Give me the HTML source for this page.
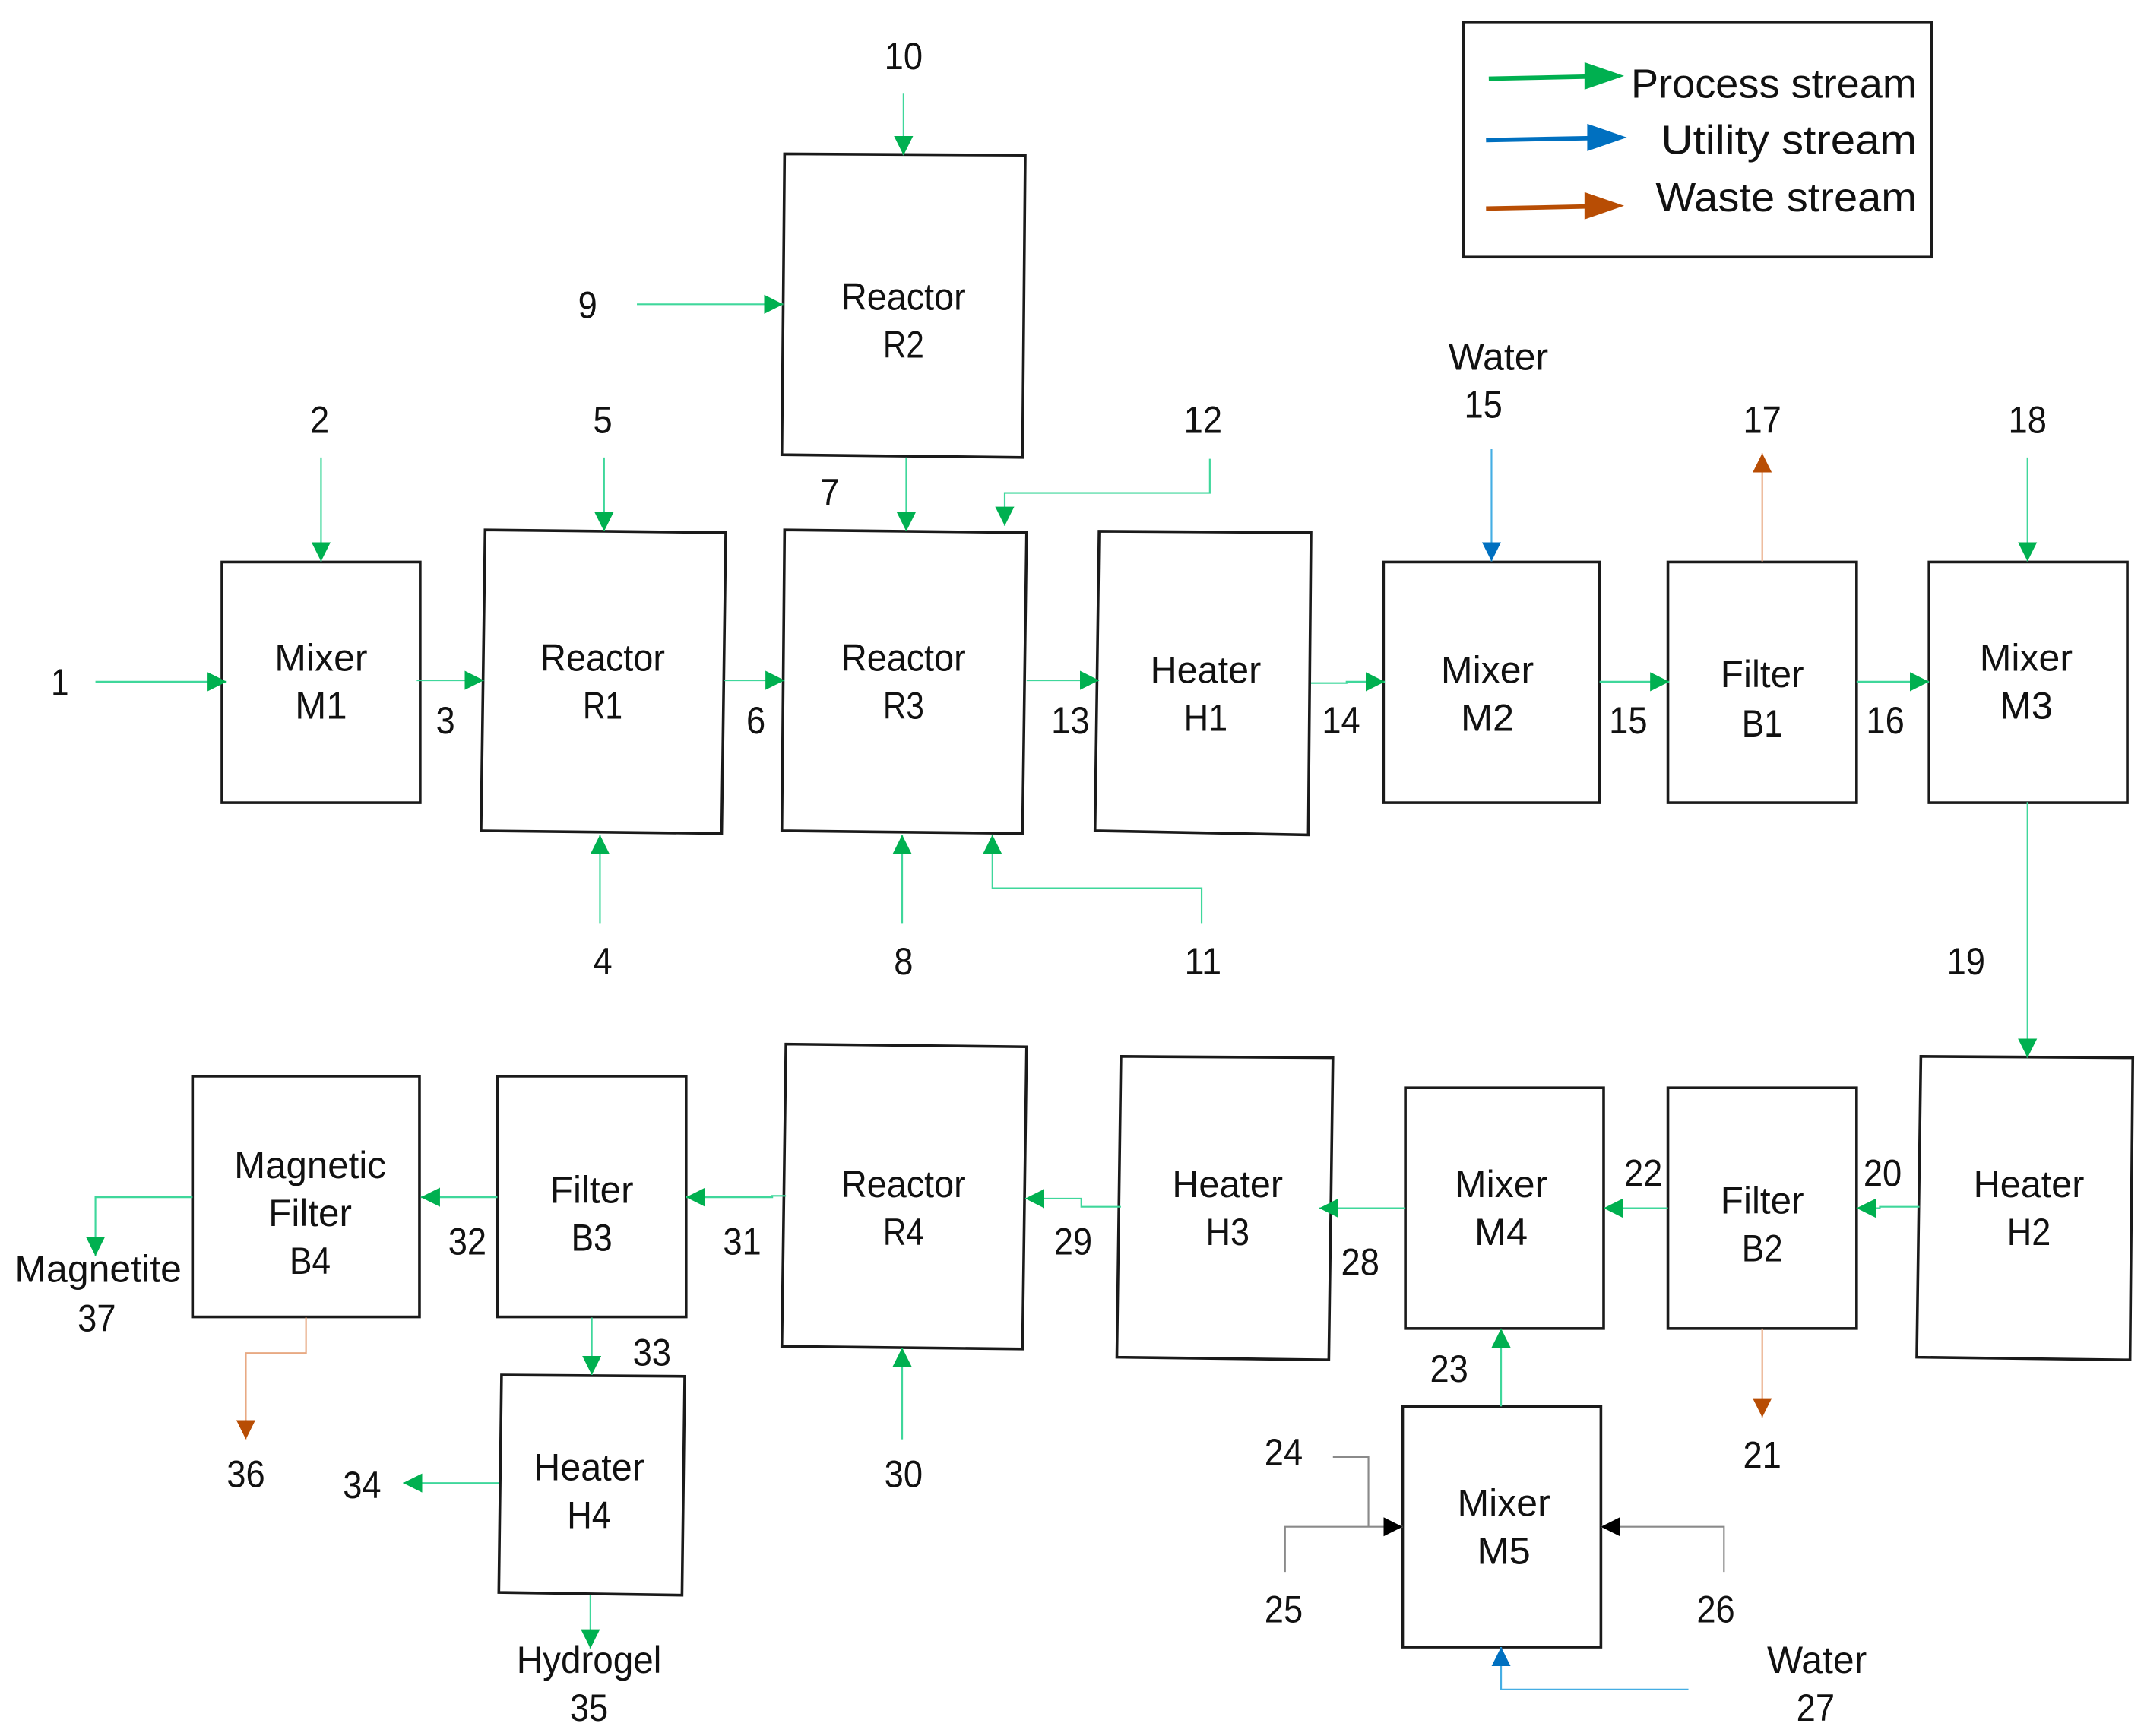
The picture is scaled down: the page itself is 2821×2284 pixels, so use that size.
<!DOCTYPE html>
<html><head><meta charset="utf-8"><style>
html,body{margin:0;padding:0;background:#fff}
svg{display:block}
text{font-family:"Liberation Sans Narrow","Liberation Sans",sans-serif;font-size:28px;fill:#111;text-anchor:middle}
.b{fill:#fff;stroke:#1a1a1a;stroke-width:2}
.g,.u,.w,.k{fill:none;stroke-width:1.2}
.g{stroke:#3fd79b;marker-end:url(#mg)}
.u{stroke:#45aee4;marker-end:url(#mu)}
.w{stroke:#e8a983;marker-end:url(#mw)}
.k{stroke:#8a8a8a;marker-end:url(#mk)}
.n{fill:none;stroke:#8a8a8a;stroke-width:1.2}
</style></head><body>
<svg xmlns="http://www.w3.org/2000/svg" width="2821" height="2284" viewBox="0 0 1568 1269.5">
<defs>
<marker id="mg" markerUnits="userSpaceOnUse" markerWidth="16" markerHeight="16" refX="14" refY="7" orient="auto"><path d="M0 0L14 7L0 14Z" fill="#00b050"/></marker>
<marker id="mu" markerUnits="userSpaceOnUse" markerWidth="16" markerHeight="16" refX="14" refY="7" orient="auto"><path d="M0 0L14 7L0 14Z" fill="#0070c0"/></marker>
<marker id="mw" markerUnits="userSpaceOnUse" markerWidth="16" markerHeight="16" refX="14" refY="7" orient="auto"><path d="M0 0L14 7L0 14Z" fill="#b84d04"/></marker>
<marker id="mk" markerUnits="userSpaceOnUse" markerWidth="16" markerHeight="16" refX="14" refY="7" orient="auto"><path d="M0 0L14 7L0 14Z" fill="#000"/></marker>
</defs>
<rect width="1568" height="1270" fill="#fff"/>
<g transform="translate(-0.2,-0.5)">
<!-- boxes -->
<rect class="b" x="162.5" y="411.5" width="145" height="176"/>
<polygon class="b" points="355,388 531,390 528,610 352,608"/>
<polygon class="b" points="574,113 750,114 748,335 572,333"/>
<polygon class="b" points="574,388 751,390 748,610 572,608"/>
<polygon class="b" points="804,389 959,390 957,611 801,608"/>
<rect class="b" x="1012" y="411.5" width="158" height="176"/>
<rect class="b" x="1220" y="411.5" width="138" height="176"/>
<rect class="b" x="1411" y="411.5" width="145" height="176"/>
<polygon class="b" points="1405,773 1560,774 1558,995 1402,993"/>
<rect class="b" x="1220" y="796" width="138" height="176"/>
<rect class="b" x="1028" y="796" width="145" height="176"/>
<polygon class="b" points="820,773 975,774 972,995 817,993"/>
<polygon class="b" points="575,764 751,766 748,987 572,985"/>
<rect class="b" x="364" y="787.5" width="138" height="176"/>
<rect class="b" x="141" y="787.5" width="166" height="176"/>
<polygon class="b" points="367,1006 501,1007 499,1167 365,1165"/>
<rect class="b" x="1026" y="1029" width="145" height="176"/>
<rect class="b" x="1070.5" y="16.5" width="342.5" height="172"/>

<!-- connectors -->
<path class="g" d="M70 499H166"/>
<path class="g" d="M235 335V411"/>
<path class="g" d="M305 498H354"/>
<path class="g" d="M442 335V389"/>
<path class="g" d="M439 676V611"/>
<path class="g" d="M530 498H574"/>
<path class="g" d="M466 223H573"/>
<path class="g" d="M661 69V114"/>
<path class="g" d="M663 335V389"/>
<path class="g" d="M660 676V611"/>
<path class="g" d="M879 676V650H726V611"/>
<path class="g" d="M885 336V361H735V385"/>
<path class="g" d="M751 498H804"/>
<path class="g" d="M959 500H985V499H1013"/>
<path class="u" d="M1091 329V411"/>
<path class="g" d="M1170 499H1221"/>
<path class="w" d="M1289 411V332"/>
<path class="g" d="M1358 499H1411"/>
<path class="g" d="M1483 335V411"/>
<path class="g" d="M1483 587V774"/>
<path class="g" d="M1404 883H1375V884H1358"/>
<path class="g" d="M1220 884H1173"/>
<path class="g" d="M1028 884H965"/>
<path class="g" d="M820 883H791V877H750"/>
<path class="g" d="M575 875H565V876H502"/>
<path class="g" d="M364 876H308"/>
<path class="g" d="M141 876H70V919"/>
<path class="w" d="M224 964V990H180V1053"/>
<path class="g" d="M433 964V1006"/>
<path class="g" d="M365 1085H295"/>
<path class="g" d="M432 1167V1206"/>
<path class="g" d="M660 1053V986"/>
<path class="g" d="M1098 1029V972"/>
<path class="w" d="M1289 972V1037"/>
<path class="n" d="M975 1066H1001V1117"/>
<path class="k" d="M940 1150V1117H1026"/>
<path class="k" d="M1261 1150V1117H1171"/>
<path class="u" d="M1235 1236H1098V1205"/>

<!-- legend arrows -->
<path d="M1089 58L1162 56.5" stroke="#00b050" stroke-width="3.2" fill="none"/><path d="M1159 46L1188 56L1159 66Z" fill="#00b050"/>
<path d="M1087 103L1164 101.5" stroke="#0070c0" stroke-width="3.2" fill="none"/><path d="M1161 91L1190 101L1161 111Z" fill="#0070c0"/>
<path d="M1087 153L1162 151.5" stroke="#b84d04" stroke-width="3.2" fill="none"/><path d="M1159 141L1188 151L1159 161Z" fill="#b84d04"/>

<!-- legend text -->
<text x="1297.5" y="72" textLength="209" lengthAdjust="spacingAndGlyphs" style="font-size:30px">Process stream</text>
<text x="1308.5" y="113" textLength="187" lengthAdjust="spacingAndGlyphs" style="font-size:30px">Utility stream</text>
<text x="1306.5" y="155" textLength="191" lengthAdjust="spacingAndGlyphs" style="font-size:30px">Waste stream</text>

<!-- box labels -->
<text x="235" y="491" textLength="68" lengthAdjust="spacingAndGlyphs">Mixer</text>
<text x="235" y="526" textLength="38" lengthAdjust="spacingAndGlyphs">M1</text>
<text x="441" y="491" textLength="91" lengthAdjust="spacingAndGlyphs">Reactor</text>
<text x="441" y="526" textLength="29" lengthAdjust="spacingAndGlyphs">R1</text>
<text x="661" y="227" textLength="91" lengthAdjust="spacingAndGlyphs">Reactor</text>
<text x="661" y="262" textLength="30" lengthAdjust="spacingAndGlyphs">R2</text>
<text x="661" y="491" textLength="91" lengthAdjust="spacingAndGlyphs">Reactor</text>
<text x="661" y="526" textLength="30" lengthAdjust="spacingAndGlyphs">R3</text>
<text x="882" y="500" textLength="81" lengthAdjust="spacingAndGlyphs">Heater</text>
<text x="882" y="535" textLength="32" lengthAdjust="spacingAndGlyphs">H1</text>
<text x="1088" y="500" textLength="68" lengthAdjust="spacingAndGlyphs">Mixer</text>
<text x="1088" y="535" textLength="39" lengthAdjust="spacingAndGlyphs">M2</text>
<text x="1289" y="503" textLength="61" lengthAdjust="spacingAndGlyphs">Filter</text>
<text x="1289" y="539" textLength="30" lengthAdjust="spacingAndGlyphs">B1</text>
<text x="1482" y="491" textLength="68" lengthAdjust="spacingAndGlyphs">Mixer</text>
<text x="1482" y="526" textLength="39" lengthAdjust="spacingAndGlyphs">M3</text>
<text x="1484" y="876" textLength="81" lengthAdjust="spacingAndGlyphs">Heater</text>
<text x="1484" y="911" textLength="32" lengthAdjust="spacingAndGlyphs">H2</text>
<text x="1289" y="888" textLength="61" lengthAdjust="spacingAndGlyphs">Filter</text>
<text x="1289" y="923" textLength="30" lengthAdjust="spacingAndGlyphs">B2</text>
<text x="1098" y="876" textLength="68" lengthAdjust="spacingAndGlyphs">Mixer</text>
<text x="1098" y="911" textLength="39" lengthAdjust="spacingAndGlyphs">M4</text>
<text x="898" y="876" textLength="81" lengthAdjust="spacingAndGlyphs">Heater</text>
<text x="898" y="911" textLength="32" lengthAdjust="spacingAndGlyphs">H3</text>
<text x="661" y="876" textLength="91" lengthAdjust="spacingAndGlyphs">Reactor</text>
<text x="661" y="911" textLength="30" lengthAdjust="spacingAndGlyphs">R4</text>
<text x="433" y="880" textLength="61" lengthAdjust="spacingAndGlyphs">Filter</text>
<text x="433" y="915" textLength="30" lengthAdjust="spacingAndGlyphs">B3</text>
<text x="227" y="862" textLength="111" lengthAdjust="spacingAndGlyphs">Magnetic</text>
<text x="227" y="897" textLength="61" lengthAdjust="spacingAndGlyphs">Filter</text>
<text x="227" y="932" textLength="30" lengthAdjust="spacingAndGlyphs">B4</text>
<text x="431" y="1083" textLength="81" lengthAdjust="spacingAndGlyphs">Heater</text>
<text x="431" y="1118" textLength="32" lengthAdjust="spacingAndGlyphs">H4</text>
<text x="1100" y="1109" textLength="68" lengthAdjust="spacingAndGlyphs">Mixer</text>
<text x="1100" y="1144" textLength="39" lengthAdjust="spacingAndGlyphs">M5</text>

<!-- stream labels -->
<text x="44" y="509" textLength="13" lengthAdjust="spacingAndGlyphs">1</text>
<text x="234" y="317" textLength="14" lengthAdjust="spacingAndGlyphs">2</text>
<text x="326" y="537" textLength="14" lengthAdjust="spacingAndGlyphs">3</text>
<text x="441" y="317" textLength="14" lengthAdjust="spacingAndGlyphs">5</text>
<text x="441" y="713" textLength="14" lengthAdjust="spacingAndGlyphs">4</text>
<text x="553" y="537" textLength="14" lengthAdjust="spacingAndGlyphs">6</text>
<text x="607" y="370" textLength="14" lengthAdjust="spacingAndGlyphs">7</text>
<text x="661" y="713" textLength="14" lengthAdjust="spacingAndGlyphs">8</text>
<text x="430" y="233" textLength="14" lengthAdjust="spacingAndGlyphs">9</text>
<text x="661" y="51" textLength="28" lengthAdjust="spacingAndGlyphs">10</text>
<text x="880" y="713" textLength="27" lengthAdjust="spacingAndGlyphs">11</text>
<text x="880" y="317" textLength="28" lengthAdjust="spacingAndGlyphs">12</text>
<text x="783" y="537" textLength="28" lengthAdjust="spacingAndGlyphs">13</text>
<text x="981" y="537" textLength="28" lengthAdjust="spacingAndGlyphs">14</text>
<text x="1096" y="271" textLength="73" lengthAdjust="spacingAndGlyphs">Water</text>
<text x="1085" y="306" textLength="28" lengthAdjust="spacingAndGlyphs">15</text>
<text x="1191" y="537" textLength="28" lengthAdjust="spacingAndGlyphs">15</text>
<text x="1379" y="537" textLength="28" lengthAdjust="spacingAndGlyphs">16</text>
<text x="1289" y="317" textLength="28" lengthAdjust="spacingAndGlyphs">17</text>
<text x="1483" y="317" textLength="28" lengthAdjust="spacingAndGlyphs">18</text>
<text x="1438" y="713" textLength="28" lengthAdjust="spacingAndGlyphs">19</text>
<text x="1377" y="868" textLength="28" lengthAdjust="spacingAndGlyphs">20</text>
<text x="1202" y="868" textLength="28" lengthAdjust="spacingAndGlyphs">22</text>
<text x="995" y="933" textLength="28" lengthAdjust="spacingAndGlyphs">28</text>
<text x="785" y="918" textLength="28" lengthAdjust="spacingAndGlyphs">29</text>
<text x="543" y="918" textLength="28" lengthAdjust="spacingAndGlyphs">31</text>
<text x="342" y="918" textLength="28" lengthAdjust="spacingAndGlyphs">32</text>
<text x="477" y="999" textLength="28" lengthAdjust="spacingAndGlyphs">33</text>
<text x="265" y="1096" textLength="28" lengthAdjust="spacingAndGlyphs">34</text>
<text x="180" y="1088" textLength="28" lengthAdjust="spacingAndGlyphs">36</text>
<text x="661" y="1088" textLength="28" lengthAdjust="spacingAndGlyphs">30</text>
<text x="1060" y="1011" textLength="28" lengthAdjust="spacingAndGlyphs">23</text>
<text x="939" y="1072" textLength="28" lengthAdjust="spacingAndGlyphs">24</text>
<text x="939" y="1187" textLength="28" lengthAdjust="spacingAndGlyphs">25</text>
<text x="1255" y="1187" textLength="28" lengthAdjust="spacingAndGlyphs">26</text>
<text x="1289" y="1074" textLength="28" lengthAdjust="spacingAndGlyphs">21</text>
<text x="1329" y="1224" textLength="73" lengthAdjust="spacingAndGlyphs">Water</text>
<text x="1328" y="1259" textLength="28" lengthAdjust="spacingAndGlyphs">27</text>
<text x="431" y="1224" textLength="106" lengthAdjust="spacingAndGlyphs">Hydrogel</text>
<text x="431" y="1259" textLength="28" lengthAdjust="spacingAndGlyphs">35</text>
<text x="72" y="938" textLength="122" lengthAdjust="spacingAndGlyphs">Magnetite</text>
<text x="71" y="974" textLength="28" lengthAdjust="spacingAndGlyphs">37</text>
</g>
</svg>
</body></html>
